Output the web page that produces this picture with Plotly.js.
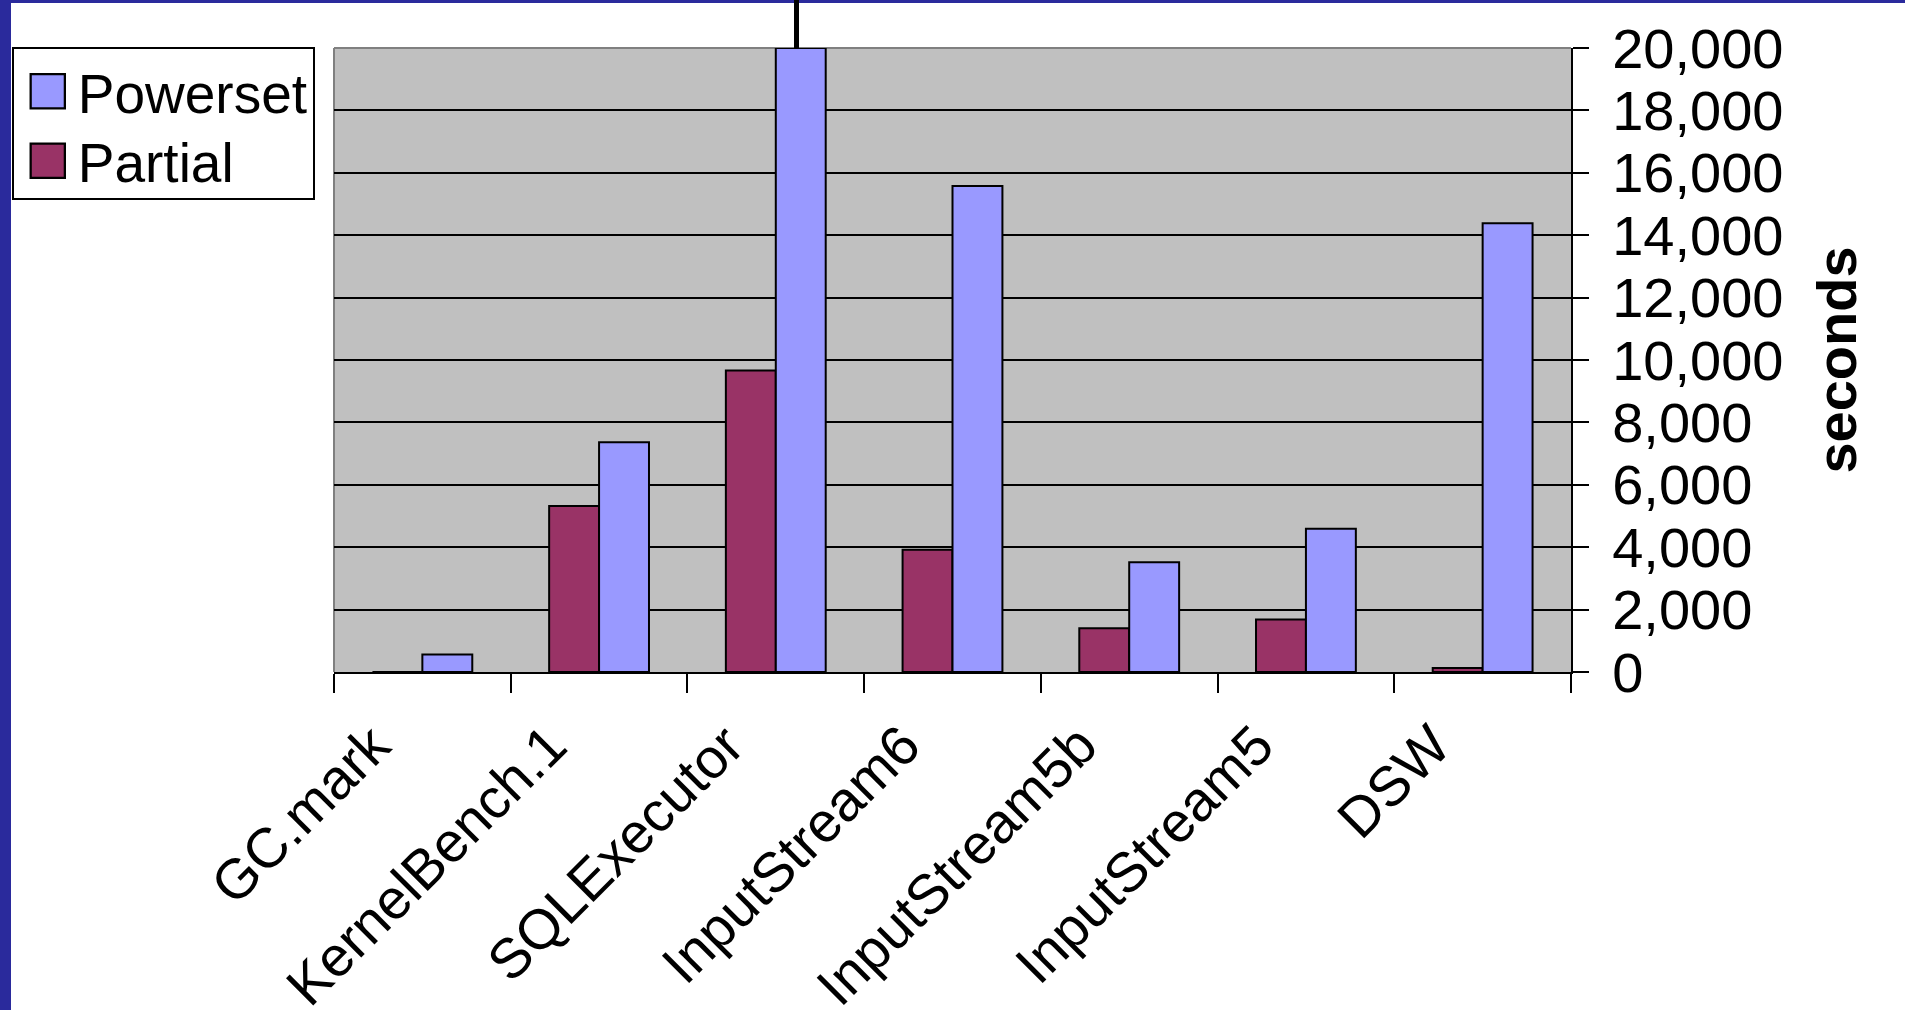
<!DOCTYPE html>
<html>
<head>
<meta charset="utf-8">
<script src="https://cdn.plot.ly/plotly-3.0.1.min.js"></script>
<style>
  html, body { margin: 0; padding: 0; background: #ffffff; }
  #wrap { position: relative; width: 1905px; height: 1010px; overflow: hidden; }
  #chart { position: absolute; left: 0; top: 0; width: 1905px; height: 1010px; }
  .deco { position: absolute; pointer-events: none; }
</style>
</head>
<body>
<div id="wrap">
  <div id="chart"></div>
  <div class="deco" style="left:0;top:0;width:11px;height:1010px;background:#2a2a9c;"></div>
  <div class="deco" style="left:0;top:0;width:1905px;height:3px;background:#2a2a9c;"></div>
  <div class="deco" style="left:794px;top:0;width:5px;height:48px;background:#000000;"></div>
</div>
<script>
// ---- data ----
const categories = ['GC.mark', 'KernelBench.1', 'SQLExecutor', 'InputStream6', 'InputStream5b', 'InputStream5', 'DSW'];
const seriesNames = ['Partial', 'Powerset'];
const partialValues = [0, 5320, 9660, 3920, 1400, 1680, 130];
const powersetValues = [560, 7360, 20000, 15580, 3520, 4590, 14380];
const yTickValues = [0, 2000, 4000, 6000, 8000, 10000, 12000, 14000, 16000, 18000, 20000];
const yAxisTitle = 'seconds';

const FONT = 'Liberation Sans, Arial, Helvetica, sans-serif';

const traces = [
  {
    type: 'bar', name: seriesNames[0], x: categories, y: partialValues,
    marker: { color: '#993366', line: { color: '#000000', width: 2 } },
    hoverinfo: 'x+y+name'
  },
  {
    type: 'bar', name: seriesNames[1], x: categories, y: powersetValues,
    marker: { color: '#9999FF', line: { color: '#000000', width: 2 } },
    hoverinfo: 'x+y+name'
  }
];

const layout = {
  width: 1905, height: 1010,
  margin: { l: 331, r: 334, t: 48, b: 338, pad: 0 },
  paper_bgcolor: '#ffffff',
  plot_bgcolor: '#C0C0C0',
  font: { family: FONT, size: 55, color: '#000000' },
  barmode: 'group',
  bargap: 0.435,
  bargroupgap: 0,
  showlegend: true,
  legend: {
    x: -0.2605, y: 1.0016, xanchor: 'left', yanchor: 'top',
    traceorder: 'reversed',
    bgcolor: '#ffffff', bordercolor: '#000000', borderwidth: 2,
    font: { family: FONT, size: 55, color: '#000000' },
    itemwidth: 54
  },
  xaxis: {
    type: 'category',
    showline: true, linecolor: '#000000', linewidth: 2,
    ticks: 'outside', ticklen: 19, tickwidth: 2, tickcolor: '#000000',
    tickson: 'boundaries',
    tickangle: -45,
    ticklabelshift: -49,
    ticklabelstandoff: 16,
    tickfont: { family: FONT, size: 56, color: '#000000' },
    showgrid: false, zeroline: false, automargin: false
  },
  yaxis: {
    side: 'right',
    range: [0, 20000],
    tickvals: yTickValues,
    tickformat: ',d',
    showgrid: true, gridcolor: '#000000', gridwidth: 2,
    showline: true, linecolor: '#000000', linewidth: 2,
    ticks: 'outside', ticklen: 16, tickwidth: 2, tickcolor: '#000000',
    ticklabelstandoff: 12,
    tickfont: { family: FONT, size: 56, color: '#000000' },
    zeroline: false, automargin: false,
    title: { text: '<b>' + yAxisTitle + '</b>', font: { family: FONT, size: 56, color: '#000000' }, standoff: 34 }
  },
  shapes: [
    { type: 'line', xref: 'paper', yref: 'paper', x0: 0, x1: 0, y0: 0, y1: 1, line: { color: '#808080', width: 2 }, layer: 'between' },
    { type: 'line', xref: 'paper', yref: 'paper', x0: 0, x1: 1, y0: 1, y1: 1, line: { color: '#808080', width: 2 }, layer: 'between' }
  ]
};

Plotly.newPlot('chart', traces, layout, { staticPlot: true, displayModeBar: false }).then(function (gd) {
  const bg = gd.querySelector('.legend .bg');
  const lb = bg ? bg.getBoundingClientRect() : null;
  // enlarge legend swatches to match the reference's large square keys
  gd.querySelectorAll('.legendpoints path').forEach(function (p) {
    p.setAttribute('transform', 'scale(2.85)');
    p.style.strokeWidth = '0.8px';
    if (lb) {
      const b = p.getBoundingClientRect();
      const dx = (lb.left + 35) - (b.left + b.width / 2);
      p.setAttribute('transform', 'translate(' + dx + ',0) scale(2.85)');
    }
  });
  // tighten legend rows slightly
  const items = Array.prototype.slice.call(gd.querySelectorAll('.legend .traces'));
  const parsed = items.map(function (g) {
    const m = /translate\(\s*([-\d.]+)[ ,]+([-\d.]+)\s*\)/.exec(g.getAttribute('transform') || '');
    return { g: g, x: m ? parseFloat(m[1]) : 0, y: m ? parseFloat(m[2]) : 0 };
  }).sort(function (a, b) { return a.y - b.y; });
  parsed.forEach(function (o, i) {
    o.g.setAttribute('transform', 'translate(' + o.x + ',' + (o.y - 5 * i) + ')');
  });
  if (bg) {
    const h = parseFloat(bg.getAttribute('height'));
    if (!isNaN(h)) bg.setAttribute('height', h - 10);
  }
});
</script>
</body>
</html>
